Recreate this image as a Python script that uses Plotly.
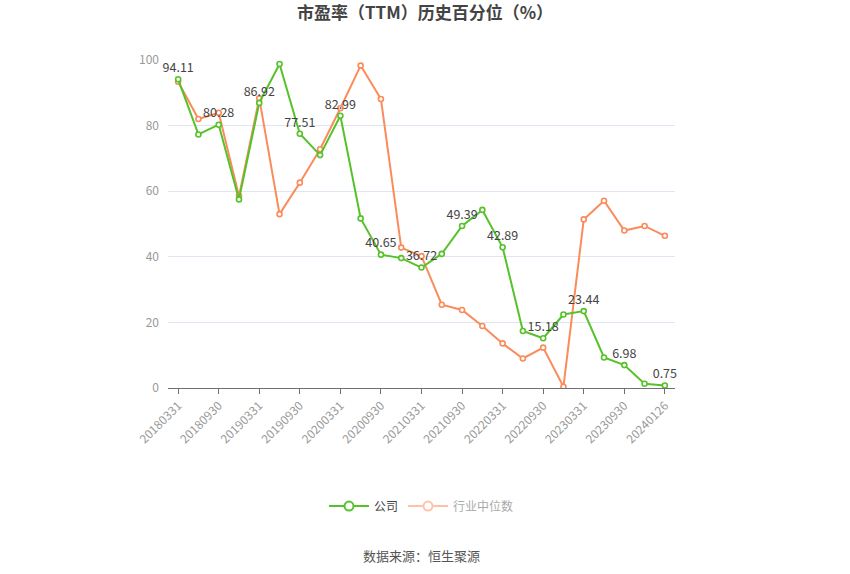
import plotly.graph_objects as go

dates = ["20180331","20180630","20180930","20181231","20190331","20190630","20190930","20191231",
         "20200331","20200630","20200930","20201231","20210331","20210630","20210930","20211231",
         "20220331","20220630","20220930","20221231","20230331","20230630","20230930","20231231","20240126"]
company = [94.11, 77.3, 80.28, 57.5, 86.92, 98.8, 77.51, 71.0, 82.99, 51.7, 40.65, 39.6, 36.72,
           40.9, 49.39, 54.3, 42.89, 17.4, 15.18, 22.4, 23.44, 9.3, 6.98, 1.3, 0.75]
industry = [93.4, 82.0, 83.9, 58.5, 88.3, 53.0, 62.6, 72.8, 85.3, 98.3, 88.1, 42.8, 40.2,
            25.4, 23.8, 18.9, 13.6, 9.0, 12.3, 0.4, 51.4, 57.1, 48.0, 49.4, 46.4]
tick_dates = dates[0::2]
labels = [f"{v:.2f}" if i % 2 == 0 else "" for i, v in enumerate(company)]

GREEN = "#56c22a"
ORANGE = "#fb8b5b"
FONT = "Noto Sans CJK SC"

fig = go.Figure()
fig.add_trace(go.Scatter(
    x=dates, y=industry, mode="lines+markers", name="行业中位数", showlegend=False,
    line=dict(color=ORANGE, width=2),
    marker=dict(symbol="circle", size=5, color="white", line=dict(color=ORANGE, width=1.6)),
))
fig.add_trace(go.Scatter(
    x=dates, y=company, mode="lines+markers+text", name="公司", showlegend=False,
    text=labels, textposition="top center", textfont=dict(size=12.5, color="#444", family=FONT),
    line=dict(color=GREEN, width=2),
    marker=dict(symbol="circle", size=5, color="white", line=dict(color=GREEN, width=1.6)),
    cliponaxis=False,
))
# legend entries
fig.add_trace(go.Scatter(
    x=[None], y=[None], mode="lines+markers", name="公司",
    line=dict(color=GREEN, width=2),
    marker=dict(symbol="circle", size=9, color="white", line=dict(color=GREEN, width=2)),
))
fig.add_trace(go.Scatter(
    x=[None], y=[None], mode="lines+markers", name="<span style='color:#aaaaaa'>行业中位数</span>",
    line=dict(color="#ffc2a9", width=2),
    marker=dict(symbol="circle", size=9, color="white", line=dict(color="#ffc2a9", width=2)),
))

fig.update_layout(
    width=850, height=574,
    margin=dict(l=168, r=175, t=60, b=186),
    paper_bgcolor="white", plot_bgcolor="white",
    font=dict(family=FONT, size=12, color="#666"),
    title=dict(text="<b>市盈率（TTM）历史百分位（%）</b>", x=0.5, xanchor="center",
               y=0.988, yanchor="top", font=dict(size=17, color="#444", family=FONT)),
    showlegend=True,
    legend=dict(orientation="h", x=0.5, xanchor="center", y=-0.36, yanchor="middle",
                font=dict(size=12, color="#444", family=FONT), itemwidth=40,
                bgcolor="rgba(0,0,0,0)"),
    annotations=[dict(text="数据来源：恒生聚源", x=0.5, xref="paper", xanchor="center",
                      y=-0.512, yref="paper", yanchor="middle", showarrow=False,
                      font=dict(size=13, color="#555", family=FONT))],
)

fig.update_xaxes(
    type="category", categoryorder="array", categoryarray=dates,
    range=[-0.5, 24.5], tickmode="array", tickvals=tick_dates, ticktext=tick_dates,
    tickangle=-45, tickfont=dict(size=12, color="#999", family=FONT),
    showline=True, linecolor="#6e7079", linewidth=1,
    ticks="outside", ticklen=5, tickcolor="#6e7079",
    showgrid=False, zeroline=False,
)
fig.update_yaxes(
    range=[0, 100], tickvals=[0, 20, 40, 60, 80, 100],
    tickfont=dict(size=12, color="#999", family=FONT),
    showgrid=True, gridcolor="#e0e6f1", gridwidth=1,
    showline=False, zeroline=False, ticks="", ticklabelstandoff=8,
)

fig.write_html("out.html")
